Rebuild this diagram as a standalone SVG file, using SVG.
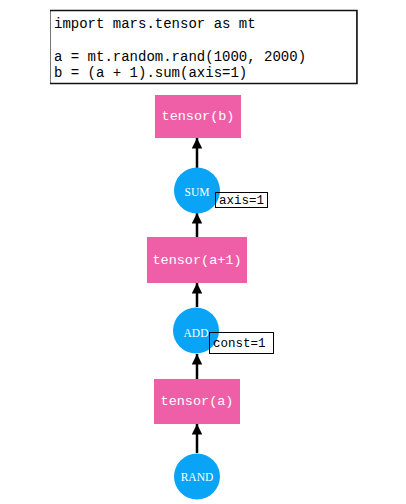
<svg xmlns="http://www.w3.org/2000/svg" width="406" height="504" viewBox="0 0 406 504">
<style>
.code{font-family:"Liberation Mono","Courier New",monospace;font-size:14px;fill:#000}
.tensor rect{fill:#EE5FA7}
.tensor text{font-family:"Liberation Mono","Courier New",monospace;font-size:13.5px;fill:#fff;text-anchor:middle;dominant-baseline:central}
.op circle{fill:#09A4F5}
.op text{font-family:"Liberation Serif","Times New Roman",serif;font-size:11.5px;fill:#fff;text-anchor:middle;dominant-baseline:central}
.lbl rect{fill:none;stroke:#000;stroke-width:1}
.lbl text{font-family:"Liberation Mono","Courier New",monospace;font-size:12.5px;fill:#000;dominant-baseline:central}
.edge{stroke:#000;stroke-width:2.5;fill:none;marker-end:url(#arr)}
</style>
<defs>
<marker id="arr" viewBox="0 0 10 10" refX="10" refY="5" markerWidth="4.2" markerHeight="4.2" markerUnits="strokeWidth" orient="auto">
<path d="M0,0 L10,5 L0,10 z" fill="#000"/>
</marker>
</defs>
<g id="code">
<rect x="50.5" y="10.5" width="306" height="73" fill="#fff" stroke="#777" stroke-width="1"/>
<path d="M50,10.5 H357 V83.5 H50" fill="none" stroke="#111" stroke-width="1.5"/>
<text class="code" x="54" y="28">import mars.tensor as mt</text>
<text class="code" x="54" y="61">a = mt.random.rand(1000, 2000)</text>
<text class="code" x="54" y="77">b = (a + 1).sum(axis=1)</text>
</g>
<g id="connectors">
<line class="edge" x1="197" y1="453" x2="197" y2="424"/>
<line class="edge" x1="197" y1="379" x2="197" y2="354"/>
<line class="edge" x1="197" y1="307" x2="197" y2="283"/>
<line class="edge" x1="197" y1="237" x2="197" y2="213"/>
<line class="edge" x1="197" y1="168" x2="197" y2="138"/>
</g>
<g id="tensor_b" class="tensor">
<rect x="155" y="95" width="86" height="43"/>
<text x="198" y="116.5">tensor(b)</text>
</g>
<g id="sum" class="op">
<circle cx="197" cy="190.5" r="23"/>
<text x="197" y="192">SUM</text>
</g>
<g id="sum_label" class="lbl">
<rect x="215.5" y="192.5" width="52" height="15"/>
<text x="219" y="200.5">axis=1</text>
</g>
<g id="tensor_a1" class="tensor">
<rect x="147" y="237" width="100" height="46"/>
<text x="197" y="260">tensor(a+1)</text>
</g>
<g id="add" class="op">
<circle cx="196" cy="330.5" r="23"/>
<text x="196" y="332.5">ADD</text>
</g>
<g id="add_label" class="lbl">
<rect x="209.5" y="332.5" width="64" height="21"/>
<text x="213" y="344">const=1</text>
</g>
<g id="tensor_a" class="tensor">
<rect x="154" y="379" width="86" height="45"/>
<text x="197" y="401.5">tensor(a)</text>
</g>
<g id="rand" class="op">
<circle cx="197" cy="476.5" r="23"/>
<text x="197" y="477">RAND</text>
</g>
</svg>
